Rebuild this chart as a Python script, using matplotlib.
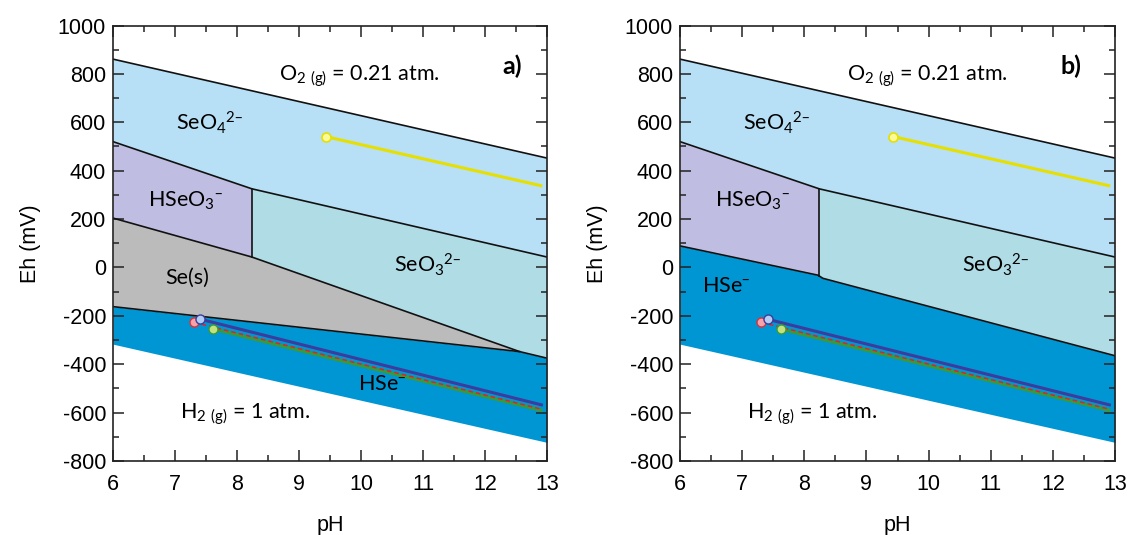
import numpy as np
import matplotlib
matplotlib.use("Agg")
import matplotlib.pyplot as plt
from matplotlib.ticker import MultipleLocator

plt.rcParams["axes.unicode_minus"] = False

# ---- stability-field boundaries (pH, Eh in mV) ----
o2_ph = [6.0, 13.0]
o2_eh = [861, 452]
h2_ph = [6.0, 13.0]
h2_eh = [-317, -723]

# SeO4(2-) lower boundary (with HSeO3- then SeO3(2-))
seo4_ph = [6.0, 8.24, 13.0]
seo4_eh = [520, 325, 43]
pka_ph = 8.24

# a) with Se(s)
se_top_ph = [6.0, 8.24, 12.56, 13.0]
se_top_eh = [204, 43, -348, -375]
se_bot_ph = [6.0, 12.56]
se_bot_eh = [-162, -348]
hse_top_a_ph = [6.0, 12.56, 13.0]
hse_top_a_eh = [-162, -348, -375]

# b) without Se(s)
hse_top_b_ph = [6.0, 8.22, 8.30, 13.0]
hse_top_b_eh = [89, -32, -45, -365]

# ---- measured trajectories ----
yel_ph = [9.43, 12.90]
yel_eh = [541, 338]
blue_ph = [7.41, 12.91]
blue_eh = [-214, -568]
red_ph = [7.31, 12.90]
red_eh = [-227, -585]
green_ph = [7.62, 12.90]
green_eh = [-254, -590]

# ---- labels ----
x_ticks = [6, 7, 8, 9, 10, 11, 12, 13]
y_ticks = [-800, -600, -400, -200, 0, 200, 400, 600, 800, 1000]

C_SEO4 = "#b7dff5"
C_HSEO3 = "#bfbde1"
C_SEO3 = "#b0dce6"
C_SE = "#bbbbbb"
C_HSE = "#0096d4"

LABEL_FONT = "Lato"
TICK_FONT = "Liberation Sans"


def f(ph, xs, ys):
    return np.interp(ph, xs, ys)


def draw_panel(ax, with_solid, tag):
    x = np.linspace(6, 13, 701)
    x_lo = x[x <= pka_ph]
    x_lo = np.append(x_lo, pka_ph)
    x_hi = np.insert(x[x >= pka_ph], 0, pka_ph)

    if with_solid:
        top_ph, top_eh = se_top_ph, se_top_eh
        hse_ph, hse_eh = hse_top_a_ph, hse_top_a_eh
    else:
        top_ph, top_eh = hse_top_b_ph, hse_top_b_eh
        hse_ph, hse_eh = hse_top_b_ph, hse_top_b_eh

    # water stability field, reduced species first
    ax.fill_between(x, f(x, h2_ph, h2_eh), f(x, hse_ph, hse_eh),
                    color=C_HSE, lw=0)
    if with_solid:
        xs = x[x <= se_bot_ph[-1]]
        ax.fill_between(xs, f(xs, se_bot_ph, se_bot_eh),
                        f(xs, se_top_ph, se_top_eh), color=C_SE, lw=0)
    ax.fill_between(x_lo, f(x_lo, top_ph, top_eh), f(x_lo, seo4_ph, seo4_eh),
                    color=C_HSEO3, lw=0)
    ax.fill_between(x_hi, f(x_hi, top_ph, top_eh), f(x_hi, seo4_ph, seo4_eh),
                    color=C_SEO3, lw=0)
    ax.fill_between(x, f(x, seo4_ph, seo4_eh), f(x, o2_ph, o2_eh),
                    color=C_SEO4, lw=0)

    # boundaries
    lk = dict(color="#111111", lw=1.2)
    ax.plot(o2_ph, o2_eh, **lk)
    ax.plot(seo4_ph, seo4_eh, **lk)
    ax.plot(top_ph, top_eh, **lk)
    if with_solid:
        ax.plot(se_bot_ph, se_bot_eh, **lk)
    ax.plot([pka_ph, pka_ph],
            [f(pka_ph, seo4_ph, seo4_eh), f(pka_ph - 0.01, top_ph, top_eh)], **lk)

    # trajectories
    ax.plot(yel_ph, yel_eh, color="#e6df00", lw=2.2, zorder=5)
    ax.plot(yel_ph[0], yel_eh[0], "o", ms=6.5, mfc="#fbfa9a",
            mec="#e6df00", mew=1.2, zorder=6)
    ax.plot(green_ph, green_eh, color="#3a9a3a", lw=2.4, zorder=5)
    ax.plot(red_ph, red_eh, color="#e0222a", lw=1.1, ls=(0, (3, 2)), zorder=5)
    ax.plot(blue_ph, blue_eh, color="#3c3c9c", lw=2.2, zorder=5)
    ax.plot(red_ph[0], red_eh[0], "o", ms=6.5, mfc="#f5a3aa",
            mec="#e0303a", mew=1.0, zorder=6)
    ax.plot(blue_ph[0], blue_eh[0], "o", ms=6.5, mfc="#b4cdf2",
            mec="#3c3c9c", mew=1.0, zorder=7)
    ax.plot(green_ph[0], green_eh[0], "o", ms=6.5, mfc="#c2e27e",
            mec="#3a9a3a", mew=1.0, zorder=7)

    # species labels
    tk = dict(family=LABEL_FONT, fontsize=15.5, color="black", zorder=8)
    ax.text(8.68, 789, r"$\mathregular{O_{2\ (g)}}$ = 0.21 atm.", ha="left",
            va="center", **tk)
    ax.text(12.28 if tag == "a)" else 12.12, 830, tag, ha="left", va="center",
            family=LABEL_FONT, fontsize=18, fontweight="bold", zorder=8)
    ax.text(7.56, 597, r"$\mathregular{SeO_4{}^{2–}}$", ha="center", va="center", **tk)
    ax.text(7.17, 274, r"$\mathregular{HSeO_3{}^{–}}$", ha="center", va="center", **tk)
    ax.text(11.08, 12, r"$\mathregular{SeO_3{}^{2–}}$", ha="center", va="center", **tk)
    if with_solid:
        ax.text(7.2, -43, "Se(s)", ha="center", va="center", **tk)
        ax.text(10.34, -482, r"$\mathregular{HSe^{–}}$", ha="center", va="center", **tk)
    else:
        ax.text(6.74, -76, r"$\mathregular{HSe^{–}}$", ha="center", va="center", **tk)
    ax.text(7.08, -605, r"$\mathregular{H_{2\ (g)}}$ = 1 atm.", ha="left",
            va="center", **tk)

    # axes
    ax.set_xlim(6, 13)
    ax.set_ylim(-800, 1000)
    ax.set_xticks(x_ticks)
    ax.set_yticks(y_ticks)
    ax.xaxis.set_minor_locator(MultipleLocator(0.5))
    ax.yaxis.set_minor_locator(MultipleLocator(100))
    ax.tick_params(which="both", direction="in", top=True, right=True,
                   color="#222222", width=1.1)
    ax.tick_params(which="major", length=8)
    ax.tick_params(which="minor", length=4.5)
    ax.tick_params(axis="x", pad=9)
    ax.tick_params(axis="y", pad=5)
    for lab in ax.get_xticklabels() + ax.get_yticklabels():
        lab.set_family(TICK_FONT)
        lab.set_fontsize(15.5)
    for s in ax.spines.values():
        s.set_linewidth(1.2)
        s.set_color("#222222")
    ax.set_xlabel("pH", family=TICK_FONT, fontsize=15.5, labelpad=15)
    ax.set_ylabel("Eh (mV)", family=TICK_FONT, fontsize=15.5, labelpad=12)


fig = plt.figure(figsize=(11.31, 5.35), dpi=100)
ax_a = fig.add_axes([113 / 1131, 74 / 535, 434 / 1131, 435.5 / 535])
ax_b = fig.add_axes([680 / 1131, 74 / 535, 435 / 1131, 435.5 / 535])
draw_panel(ax_a, True, "a)")
draw_panel(ax_b, False, "b)")
fig.savefig("out.png", dpi=100)
